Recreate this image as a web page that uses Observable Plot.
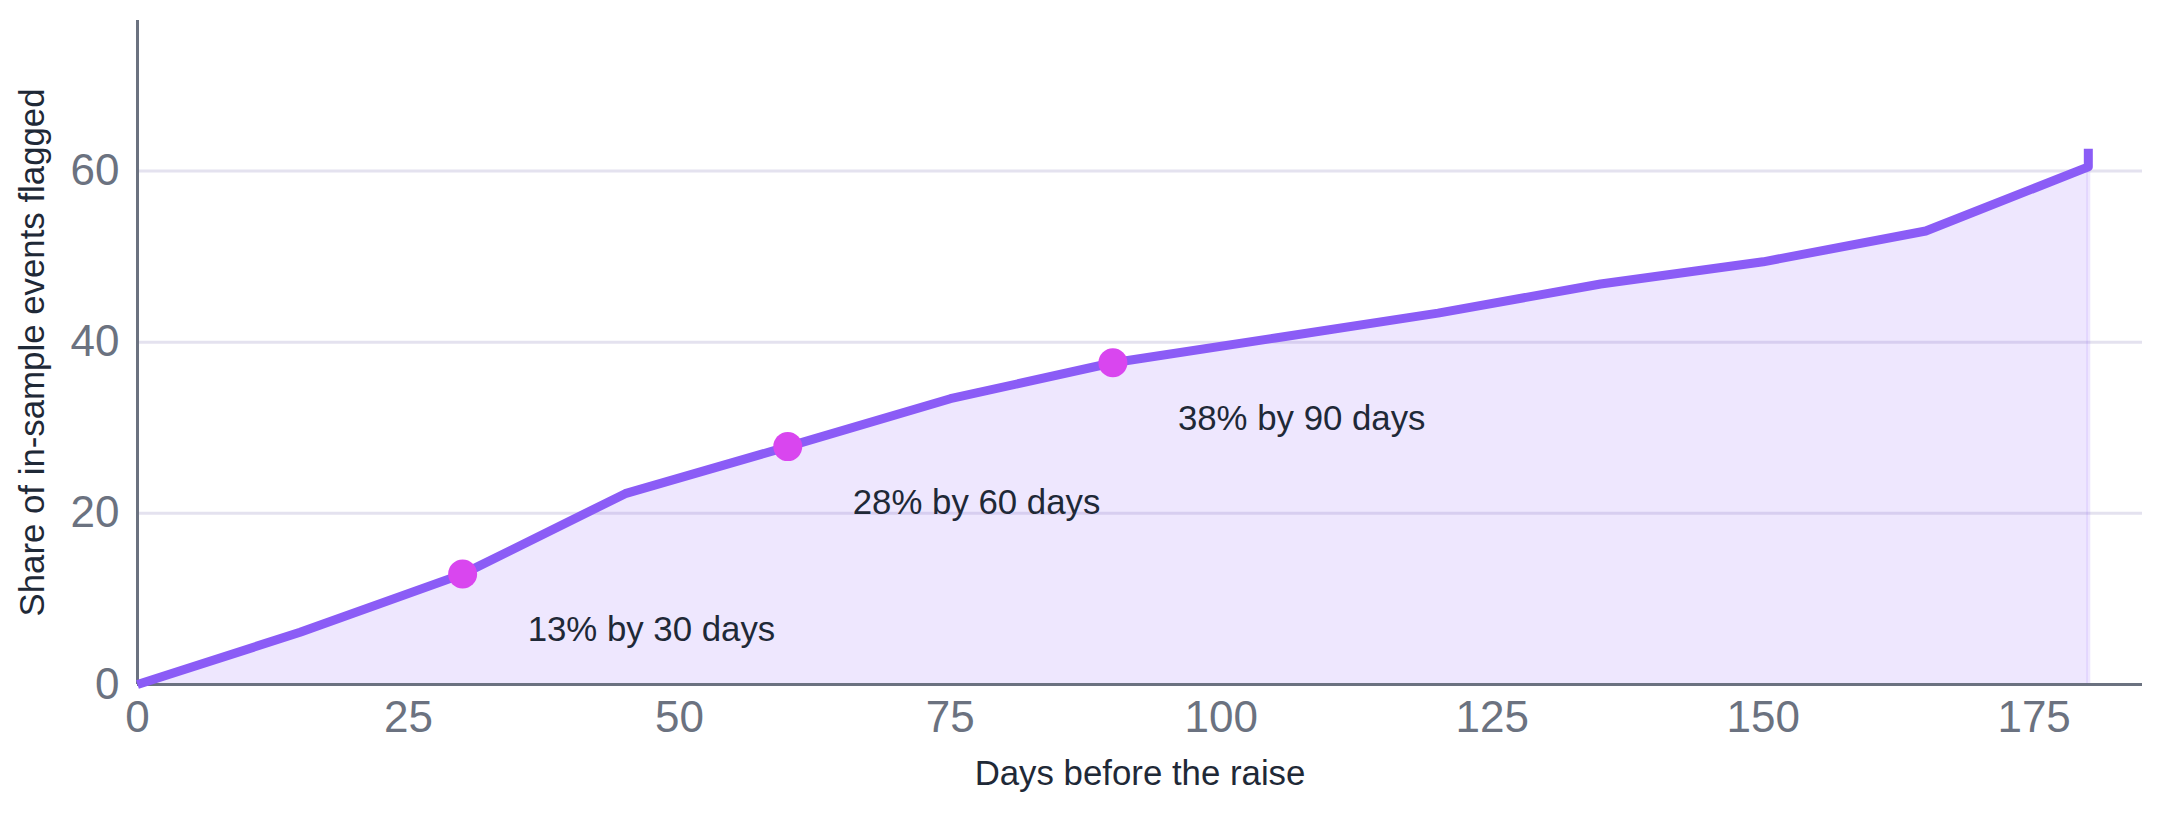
<!DOCTYPE html>
<html>
<head>
<meta charset="utf-8">
<script src="https://cdn.jsdelivr.net/npm/d3@7"></script>
<script src="https://cdn.jsdelivr.net/npm/@observablehq/plot@0.6"></script>
<style>
  html, body { margin: 0; padding: 0; background: #ffffff; }
  #chart svg { display: block; }
</style>
</head>
<body>
<div id="chart"></div>
<script>
// ---- data ----
const days = [0, 15, 30, 45, 60, 75, 90, 105, 120, 135, 150, 165, 180, 180];
const share = [0, 6.1, 12.9, 22.3, 27.8, 33.4, 37.6, 40.5, 43.4, 46.8, 49.4, 53.0, 60.5, 62.6];
const milestoneDays = [30, 60, 90];
const milestoneLabels = ["13% by 30 days", "28% by 60 days", "38% by 90 days"];
const xTicks = [0, 25, 50, 75, 100, 125, 150, 175];
const yTicks = [0, 20, 40, 60];
const yGridTicks = [20, 40, 60];
const xLabel = "Days before the raise";
const yLabel = "Share of in-sample events flagged";

// ---- derived tables ----
const series = days.map((d, i) => ({day: d, share: share[i]}));
const milestones = milestoneDays.map((d, i) => ({
  day: d,
  share: series.find(p => p.day === d).share,
  label: milestoneLabels[i]
}));
const edgeIdx = days.lastIndexOf(days[days.length - 1]) - 1;
const edge = [series[edgeIdx]];

const violet = "#8b5cf6";
const fuchsia = "#d946ef";
const gray = "#6b7280";
const dark = "#1f2937";
const font = "'Liberation Sans', Arial, Helvetica, sans-serif";

const chart = Plot.plot({
  width: 2162,
  height: 813,
  marginLeft: 137,
  marginRight: 20,
  marginTop: 20,
  marginBottom: 129,
  style: {fontFamily: font, background: "#ffffff", overflow: "visible"},
  x: {domain: [0, 185]},
  y: {domain: [0, 77.6]},
  marks: [
    Plot.gridY(yGridTicks, {stroke: "#e4e2ef", strokeOpacity: 1, strokeWidth: 3}),
    Plot.areaY(series, {x: "day", y: "share", fill: violet, fillOpacity: 0.15}),
    Plot.ruleX(edge, {x: "day", y1: 0, y2: "share", stroke: violet, strokeOpacity: 0.15, strokeWidth: 4}),
    Plot.ruleY([0], {stroke: gray, strokeWidth: 3}),
    Plot.ruleX([0], {stroke: gray, strokeWidth: 3}),
    Plot.lineY(series, {x: "day", y: "share", stroke: violet, strokeWidth: 9, strokeLinecap: "butt", strokeLinejoin: "round"}),
    Plot.dot(milestones, {x: "day", y: "share", r: 14.5, fill: fuchsia, stroke: null}),
    Plot.text(milestones, {x: "day", y: "share", text: "label", textAnchor: "start", lineAnchor: "middle", dx: 65, dy: 56, fontSize: 34.8, fill: dark}),
    Plot.axisX(xTicks, {tickSize: 0, tickPadding: 16, fontSize: 44, color: gray, label: null}),
    Plot.axisY(yTicks, {tickSize: 0, tickPadding: 18, fontSize: 44, color: gray, label: null}),
    Plot.text([xLabel], {frameAnchor: "bottom", textAnchor: "middle", lineAnchor: "middle", dy: 89, fontSize: 34.8, fill: dark}),
    Plot.text([yLabel], {frameAnchor: "left", textAnchor: "middle", lineAnchor: "middle", dx: -105, rotate: -90, fontSize: 34.8, fill: dark})
  ]
});
document.getElementById("chart").appendChild(chart);
</script>
</body>
</html>
